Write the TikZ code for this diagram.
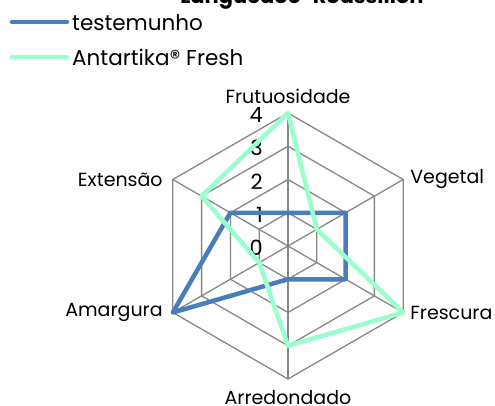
\documentclass[tikz,border=0pt]{standalone}
\usepackage{fontspec}
\setmainfont{Poppins}
\usetikzlibrary{positioning}

\definecolor{testblue}{HTML}{4A7EBB}
\definecolor{freshgreen}{HTML}{99FFCC}
\definecolor{gridgray}{HTML}{878787}

\begin{document}
\begin{tikzpicture}[x=1pt, y=1pt,
    grid/.style={gridgray, line width=1.3pt},
    serie/.style={line width=4.5pt, line join=round},
    lbl/.style={font=\fontsize{19}{22}\selectfont, inner sep=0pt}]
  \useasboundingbox (-288,-159) rectangle (207,246);

  \node[font=\bfseries\fontsize{21}{24}\selectfont, anchor=base] (title) at (14,242) {Languedoc-Roussillon};

  % grid
  \coordinate (O) at (0,0);
  \foreach \r in {1,...,4}
    \draw[grid] (90:\r*33.25) -- (30:\r*33.25) -- (-30:\r*33.25) -- (-90:\r*33.25)
      -- (-150:\r*33.25) -- (150:\r*33.25) -- cycle;
  \foreach \a/\n in {90/frut, 30/veg, -30/fresc, -90/arred, -150/amarg, 150/ext} {
    \coordinate (\n) at (\a:133);
    \draw[grid] (O) -- (\n);
  }

  % axis labels
  \node[lbl, above=9pt of frut] (frutlbl) {Frutuosidade};
  \node[lbl, right=7pt of veg] (veglbl) {Vegetal};
  \node[lbl, right=7pt of fresc] (fresclbl) {Frescura};
  \node[lbl, below=11pt of arred] (arredlbl) {Arredondado};
  \node[lbl, left=10pt of amarg] (amarglbl) {Amargura};
  \node[lbl, left=10pt of ext] (extlbl) {Extensão};

  % scale
  \foreach \v in {0,...,4}
    \node[lbl, font=\fontsize{21}{24}\selectfont, anchor=east] (tick\v) at (-25,\v*33.25-2) {\v};

  % series
  \draw[serie, testblue] (90:33.25) -- (30:66.5) -- (-30:66.5) -- (-90:33.25)
    -- (-150:133) -- (150:66.5) -- cycle;
  \draw[serie, freshgreen] (90:133) -- (30:33.25) -- (-30:133) -- (-90:99.75)
    -- (-150:33.25) -- (150:99.75) -- cycle;

  % legend
  \coordinate (leg1a) at (-276,224);
  \coordinate (leg1b) at (-221,224);
  \coordinate (leg2a) at (-276,189);
  \coordinate (leg2b) at (-221,189);
  \draw[serie, testblue, line cap=round] (leg1a) -- (leg1b);
  \draw[serie, freshgreen, line cap=round] (leg2a) -- (leg2b);
  \node[lbl, font=\fontsize{21.5}{24}\selectfont, anchor=base west] (leg1) at (-216,215) {testemunho};
  \node[lbl, font=\fontsize{21.5}{24}\selectfont, anchor=base west] (leg2) at (-216,181) {Antartika® Fresh};
\end{tikzpicture}
\end{document}
